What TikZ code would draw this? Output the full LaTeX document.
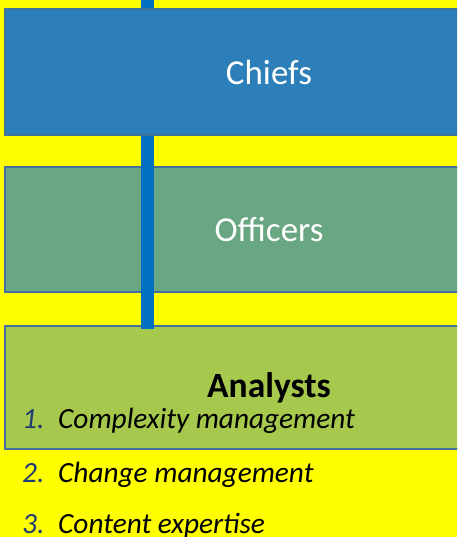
\documentclass[tikz,border=0pt]{standalone}
\usepackage{fontspec}
\setmainfont{Carlito}
\definecolor{bgyellow}{HTML}{FFFF00}
\definecolor{chiefblue}{HTML}{2C7FB8}
\definecolor{officergreen}{HTML}{69A682}
\definecolor{analystgreen}{HTML}{A6C84D}
\definecolor{boxedge}{HTML}{41719C}
\definecolor{barblue}{HTML}{0070C0}
\definecolor{numblue}{HTML}{1F3B73}
\newcommand\listno[1]{\makebox[36pt][l]{\color{numblue}#1}}
\begin{document}
\begin{tikzpicture}[x=1pt,y=-1pt,line join=miter,font=\fontsize{35}{42}\selectfont]
	\tikzset{level/.style={draw=boxedge,line width=1.2pt,minimum width=528pt,inner sep=0pt,text=white},
		bar/.style={barblue,line width=13pt,line cap=butt},
		item/.style={anchor=base west,inner sep=0pt,font=\fontsize{29.3}{34}\selectfont\itshape}}
	\fill[bgyellow] (0,0) rectangle (457,537);
	\useasboundingbox (0,0) rectangle (457,537);
	\clip (0,0) rectangle (457,537);
	%--------- Levels
	\node[level,fill=analystgreen,minimum height=123pt,text=black,font=\fontsize{35.5}{42}\selectfont\bfseries] (analysts) at (269,387.5) {Analysts};
	\node[level,fill=officergreen,minimum height=125pt] (officers) at (269,229.5) {Officers};
	\coordinate (top) at (147.5,0);
	\draw[bar,shorten >=-4pt] (top) -- (top |- analysts.north);
	\node[level,fill=chiefblue,minimum height=126pt] (chiefs) at (269,72) {Chiefs};
	%--------- Skills
	\node[item] (complexity) at (22,428) {\listno{1.}Complexity management};
	\node[item] (change) at (22,482) {\listno{2.}Change management};
	\node[item] (content) at (22,533) {\listno{3.}Content expertise};
\end{tikzpicture}
\end{document}
